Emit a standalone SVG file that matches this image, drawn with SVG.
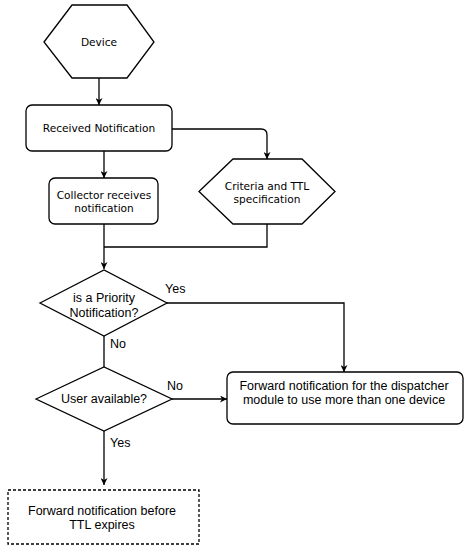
<svg xmlns="http://www.w3.org/2000/svg" width="470" height="550" viewBox="0 0 470 550">
<style>
.s{fill:#fff;stroke:#000;stroke-width:1.3}
.c{fill:none;stroke:#000;stroke-width:1.3}
.t1{font-family:"DejaVu Sans",Verdana,sans-serif;font-size:10.6px;fill:#000;text-anchor:middle}
.t2{font-family:"Liberation Sans",Arial,sans-serif;font-size:12.5px;fill:#000;text-anchor:middle}
.l{font-family:"Liberation Sans",Arial,sans-serif;font-size:12.5px;fill:#000}
</style>
<defs>
<marker id="a" viewBox="0 0 10 10" refX="10" refY="5" markerWidth="7" markerHeight="7" markerUnits="userSpaceOnUse" orient="auto">
<path d="M0,0 L10,5 L0,10 L3,5 z" fill="#000"/>
</marker>
</defs>
<rect width="470" height="550" fill="#fff"/>
<g id="connectors">
<path class="c" d="M99,78 V105" marker-end="url(#a)"/>
<path class="c" d="M172,129 H261 Q267,129 267,135 V159" marker-end="url(#a)"/>
<path class="c" d="M104,151 V178" marker-end="url(#a)"/>
<path class="c" d="M104,224 V269" marker-end="url(#a)"/>
<path class="c" d="M267,224 V247 H104"/>
<path class="c" d="M167,303 H344 V372" marker-end="url(#a)"/>
<path class="c" d="M104,336 V367"/>
<path class="c" d="M172,399 H227" marker-end="url(#a)"/>
<path class="c" d="M104,431 V485" marker-end="url(#a)"/>
</g>
<g id="labels">
<text class="l" x="165" y="293">Yes</text>
<text class="l" x="110" y="348">No</text>
<text class="l" x="167" y="390">No</text>
<text class="l" x="110" y="447">Yes</text>
</g>
<g id="device">
<polygon class="s" points="44,42 72,5 127,5 154,42 127,78 72,78"/>
<text class="t1" x="99" y="46">Device</text>
</g>
<g id="received">
<rect class="s" x="26" y="105" width="146" height="46" rx="6"/>
<text class="t1" x="99" y="132">Received Notification</text>
</g>
<g id="collector">
<rect class="s" x="49" y="178" width="109" height="46" rx="6"/>
<text class="t1" x="104" y="199">Collector receives</text>
<text class="t1" x="104" y="212">notification</text>
</g>
<g id="criteria">
<polygon class="s" points="199,191.5 233,159 302,159 335,191.5 302,224 233,224"/>
<text class="t1" x="267" y="190">Criteria and TTL</text>
<text class="t1" x="267" y="203">specification</text>
</g>
<g id="priority">
<polygon class="s" points="40,303 104,270 167,303 104,336"/>
<text class="t2" x="104" y="302">is a Priority</text>
<text class="t2" x="104" y="317">Notification?</text>
</g>
<g id="user">
<polygon class="s" points="36,399 104,367 172,399 104,431"/>
<text class="t2" x="104" y="403">User available?</text>
</g>
<g id="forward-dispatcher">
<rect class="s" x="227" y="372" width="236" height="52" rx="6"/>
<text class="t2" x="344" y="390">Forward notification for the dispatcher</text>
<text class="t2" x="344" y="404">module to use more than one device</text>
</g>
<g id="forward-ttl">
<rect class="s" x="8" y="490" width="191" height="54" stroke-dasharray="3,2"/>
<text class="t2" x="102" y="515">Forward notification before</text>
<text class="t2" x="102" y="529">TTL expires</text>
</g>
</svg>
